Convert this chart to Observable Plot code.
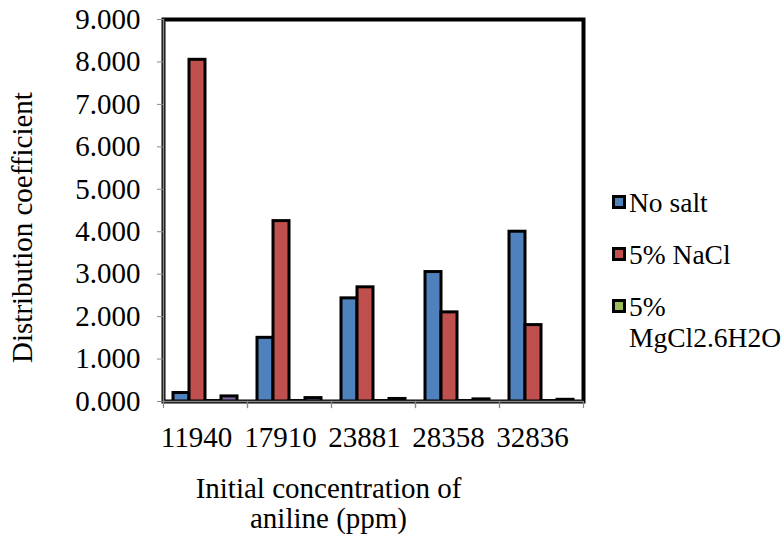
<!DOCTYPE html>
<html><head><meta charset="utf-8">
<script src="https://cdn.jsdelivr.net/npm/d3@7"></script>
<script src="https://cdn.jsdelivr.net/npm/@observablehq/plot@0.6"></script>
<style>
body{margin:0;background:#fff;font-family:"Liberation Serif","Times New Roman",serif;}
#wrap{position:relative;width:781px;height:535px;}
#legend{position:absolute;left:612px;top:187px;font-size:27.5px;line-height:31px;color:#000;}
.item{display:flex;align-items:flex-start;margin-bottom:21px;}
.sw{width:8px;height:8px;border:3px solid #000;margin-top:8px;margin-right:3px;flex:none;}
</style></head>
<body><div id="wrap"><div id="legend"></div></div>
<script>
const categories = ["11940", "17910", "23881", "28358", "32836"];
const seriesNames = ["No salt", "5% NaCl", "5% MgCl2.6H2O", "Series4"];
const legendLabels = ["No salt", "5% NaCl", "5%\nMgCl2.6H2O"];
const noSalt = [0.20, 1.50, 2.43, 3.05, 4.00];
const naCl = [8.05, 4.25, 2.69, 2.10, 1.80];
const mgCl = [0.01, 0.01, 0.01, 0.01, 0.01];
const series4 = [0.12, 0.08, 0.06, 0.05, 0.04];
const colors = ["#4F81BD", "#C0504D", "#9BBB59", "#8064A2"];
const yTicks = [0, 1, 2, 3, 4, 5, 6, 7, 8, 9];
const xTitle = "Initial concentration of\naniline (ppm)";
const yTitle = "Distribution coefficient";

const allSeries = [noSalt, naCl, mgCl, series4];
const data = [];
categories.forEach((c, i) => allSeries.forEach((s, j) => data.push({cat: c, series: seriesNames[j], value: s[i]})));

const font = '"Liberation Serif","Times New Roman",serif';
const chart = Plot.plot({
  width: 781, height: 535,
  marginLeft: 162, marginRight: 198, marginTop: 19, marginBottom: 134,
  style: {fontFamily: font, fontSize: "29px", color: "#000", background: "transparent"},
  fx: {domain: categories, padding: 0, label: null},
  x: {domain: seriesNames, paddingInner: 0, paddingOuter: 0.58, axis: null},
  y: {domain: [0, 9], ticks: yTicks, label: null},
  color: {domain: seriesNames, range: colors},
  marks: [
    Plot.frame({facet: "super", stroke: "#000", strokeWidth: 4}),
    Plot.barY(data, {fx: "cat", x: "series", y: "value", fill: "series", stroke: "#000", strokeWidth: 3}),
    Plot.frame({anchor: "left", stroke: "#888", strokeWidth: 1.2, insetTop: 382, insetBottom: -6}),
    Plot.frame({anchor: "right", stroke: "#888", strokeWidth: 1.2, insetTop: 382, insetBottom: -6}),
    Plot.ruleY([0], {stroke: "#888", strokeWidth: 1.5}),
    Plot.axisY({ticks: yTicks, tickFormat: d3.format(".3f"), tickSize: 6, tickPadding: 17, stroke: "#888", label: null, fontSize: 29}),
    Plot.frame({facet: "super", anchor: "left", stroke: "#888", strokeWidth: 1.5}),
    Plot.axisFx({anchor: "bottom", tickSize: 0, tickPadding: 25, dx: -9, label: null, fontSize: 29}),
    Plot.text([yTitle], {facet: "super", frameAnchor: "left", textAnchor: "middle", rotate: -90, dx: -141, dy: 17, fontSize: 29, fill: "#000"}),
    Plot.text([xTitle], {facet: "super", frameAnchor: "bottom", dx: -45, dy: 126, fontSize: 29, lineHeight: 1.035, fill: "#000"})
  ]
});
document.getElementById("wrap").prepend(chart);

const lg = document.getElementById("legend");
legendLabels.forEach((l, i) => {
  const it = document.createElement("div"); it.className = "item";
  const sw = document.createElement("div"); sw.className = "sw"; sw.style.background = colors[i];
  const tx = document.createElement("div"); tx.style.whiteSpace = "pre"; tx.textContent = l;
  it.append(sw, tx); lg.append(it);
});
</script>
</body></html>
